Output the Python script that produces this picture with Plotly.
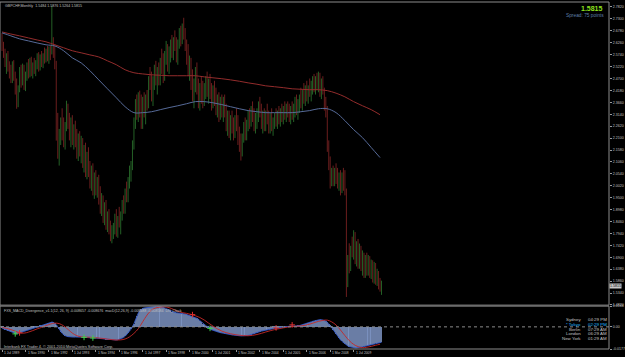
import pandas as pd
import plotly.graph_objects as go

# ---------------- data (GBPCHF monthly, Jul 1989 .. Feb 2011) ----------------
opens = [
    2.650, 2.610, 2.575, 2.540, 2.560, 2.515,
    2.490, 2.470, 2.525, 2.480, 2.420, 2.360, 2.425, 2.500, 2.450, 2.515, 2.440, 2.480,
    2.520, 2.490, 2.545, 2.500, 2.530, 2.510, 2.540, 2.565, 2.520, 2.560, 2.540, 2.570,
    2.555, 2.590, 2.560, 2.600, 2.580, 2.640, 2.580, 2.530, 2.230, 2.150, 2.220, 2.280,
    2.240, 2.200, 2.260, 2.340, 2.280, 2.230, 2.270, 2.200, 2.240, 2.190, 2.150, 2.200,
    2.160, 2.180, 2.110, 2.150, 2.070, 2.120, 2.060, 2.020, 2.060, 1.990, 2.030, 1.985,
    2.010, 1.950, 1.910, 1.940, 1.860, 1.900, 1.830, 1.860, 1.810, 1.790, 1.800, 1.820,
    1.860, 1.800, 1.850, 1.830, 1.870, 1.920, 1.900, 1.970, 1.950, 2.020, 2.060, 2.080,
    2.180, 2.280, 2.350, 2.320, 2.380, 2.330, 2.290, 2.370, 2.340, 2.390, 2.360, 2.460,
    2.440, 2.400, 2.460, 2.510, 2.470, 2.500, 2.460, 2.540, 2.520, 2.480, 2.570, 2.600,
    2.530, 2.580, 2.620, 2.590, 2.630, 2.610, 2.570, 2.620, 2.670, 2.640, 2.690, 2.660,
    2.610, 2.560, 2.500, 2.540, 2.440, 2.400, 2.450, 2.480, 2.420, 2.370, 2.430, 2.400,
    2.380, 2.420, 2.450, 2.410, 2.440, 2.400, 2.370, 2.420, 2.380, 2.340, 2.370, 2.310,
    2.360, 2.330, 2.370, 2.320, 2.270, 2.300, 2.240, 2.280, 2.260, 2.230, 2.290, 2.270,
    2.200, 2.180, 2.140, 2.210, 2.260, 2.220, 2.270, 2.300, 2.280, 2.330, 2.300, 2.260,
    2.290, 2.310, 2.350, 2.320, 2.280, 2.300, 2.260, 2.310, 2.290, 2.250, 2.300, 2.260,
    2.280, 2.300, 2.280, 2.310, 2.290, 2.320, 2.300, 2.330, 2.310, 2.340, 2.320, 2.300,
    2.330, 2.310, 2.340, 2.360, 2.330, 2.350, 2.380, 2.360, 2.400, 2.380, 2.420, 2.390,
    2.430, 2.410, 2.440, 2.460, 2.430, 2.470, 2.450, 2.480, 2.420, 2.440, 2.410, 2.360,
    2.330, 2.170, 2.100, 2.020, 2.060, 2.030, 2.060, 2.040, 2.010, 2.040, 1.990, 2.030,
    2.000, 1.980, 1.580, 1.690, 1.640, 1.720, 1.700, 1.790, 1.680, 1.740, 1.660, 1.720,
    1.650, 1.690, 1.620, 1.680, 1.630, 1.670, 1.620, 1.660, 1.600, 1.650, 1.590, 1.620,
    1.570, 1.548,
]
highs = [
    2.668, 2.630, 2.600, 2.580, 2.590, 2.545,
    2.530, 2.545, 2.550, 2.500, 2.470, 2.440, 2.520, 2.530, 2.535, 2.530, 2.500, 2.540,
    2.555, 2.560, 2.565, 2.540, 2.560, 2.550, 2.580, 2.585, 2.575, 2.590, 2.580, 2.605,
    2.600, 2.612, 2.610, 2.615, 2.786, 2.650, 2.620, 2.547, 2.320, 2.250, 2.300, 2.340,
    2.300, 2.280, 2.373, 2.360, 2.320, 2.300, 2.310, 2.270, 2.286, 2.250, 2.230, 2.240,
    2.220, 2.210, 2.180, 2.190, 2.150, 2.170, 2.110, 2.090, 2.100, 2.060, 2.070, 2.040,
    2.050, 2.000, 1.970, 1.960, 1.930, 1.940, 1.890, 1.900, 1.850, 1.830, 1.840, 1.880,
    1.900, 1.870, 1.910, 1.890, 1.940, 1.960, 1.990, 2.020, 2.040, 2.090, 2.110, 2.200,
    2.300, 2.380, 2.400, 2.410, 2.417, 2.400, 2.390, 2.410, 2.400, 2.420, 2.480, 2.520,
    2.500, 2.480, 2.530, 2.547, 2.520, 2.540, 2.560, 2.600, 2.580, 2.590, 2.634, 2.620,
    2.610, 2.640, 2.660, 2.650, 2.680, 2.650, 2.640, 2.690, 2.700, 2.710, 2.735, 2.690,
    2.640, 2.620, 2.570, 2.560, 2.510, 2.470, 2.520, 2.540, 2.470, 2.450, 2.480, 2.460,
    2.450, 2.480, 2.500, 2.470, 2.490, 2.450, 2.440, 2.460, 2.430, 2.400, 2.410, 2.390,
    2.400, 2.390, 2.400, 2.360, 2.330, 2.330, 2.310, 2.330, 2.300, 2.310, 2.340, 2.310,
    2.260, 2.230, 2.230, 2.280, 2.300, 2.290, 2.330, 2.340, 2.350, 2.370, 2.340, 2.320,
    2.340, 2.370, 2.390, 2.360, 2.330, 2.340, 2.330, 2.360, 2.330, 2.320, 2.340, 2.300,
    2.320, 2.340, 2.330, 2.350, 2.340, 2.360, 2.350, 2.370, 2.360, 2.370, 2.360, 2.350,
    2.370, 2.360, 2.390, 2.400, 2.380, 2.400, 2.430, 2.420, 2.450, 2.440, 2.460, 2.440,
    2.470, 2.460, 2.480, 2.490, 2.480, 2.495, 2.500, 2.495, 2.470, 2.480, 2.430, 2.390,
    2.350, 2.200, 2.130, 2.080, 2.090, 2.080, 2.100, 2.080, 2.060, 2.070, 2.060, 2.080,
    2.070, 1.990, 1.700, 1.751, 1.740, 1.780, 1.808, 1.800, 1.760, 1.770, 1.750, 1.740,
    1.720, 1.710, 1.700, 1.710, 1.700, 1.695, 1.680, 1.677, 1.670, 1.665, 1.640, 1.630,
    1.600, 1.588,
]
lows = [
    2.590, 2.560, 2.520, 2.490, 2.500, 2.470,
    2.450, 2.450, 2.460, 2.400, 2.338, 2.345, 2.410, 2.430, 2.440, 2.420, 2.415, 2.460,
    2.470, 2.475, 2.480, 2.470, 2.490, 2.480, 2.510, 2.500, 2.505, 2.520, 2.515, 2.535,
    2.540, 2.545, 2.534, 2.550, 2.575, 2.560, 2.510, 2.199, 2.120, 2.090, 2.180, 2.200,
    2.170, 2.160, 2.240, 2.250, 2.200, 2.170, 2.180, 2.160, 2.170, 2.120, 2.110, 2.130,
    2.100, 2.080, 2.060, 2.040, 2.030, 2.040, 1.990, 1.980, 1.960, 1.945, 1.960, 1.950,
    1.920, 1.880, 1.870, 1.840, 1.830, 1.810, 1.800, 1.790, 1.760, 1.751, 1.770, 1.790,
    1.780, 1.775, 1.820, 1.790, 1.850, 1.880, 1.880, 1.930, 1.930, 1.990, 2.020, 2.070,
    2.160, 2.250, 2.290, 2.280, 2.300, 2.250, 2.250, 2.300, 2.270, 2.330, 2.340, 2.420,
    2.370, 2.350, 2.420, 2.440, 2.400, 2.440, 2.440, 2.490, 2.450, 2.460, 2.530, 2.500,
    2.490, 2.540, 2.560, 2.550, 2.590, 2.540, 2.530, 2.600, 2.610, 2.620, 2.640, 2.590,
    2.530, 2.480, 2.460, 2.420, 2.370, 2.340, 2.410, 2.400, 2.340, 2.330, 2.360, 2.340,
    2.350, 2.380, 2.390, 2.360, 2.380, 2.330, 2.340, 2.350, 2.310, 2.300, 2.280, 2.290,
    2.300, 2.280, 2.300, 2.240, 2.220, 2.210, 2.200, 2.230, 2.200, 2.210, 2.240, 2.180,
    2.150, 2.112, 2.130, 2.190, 2.200, 2.200, 2.240, 2.250, 2.260, 2.280, 2.240, 2.230,
    2.250, 2.280, 2.300, 2.250, 2.230, 2.240, 2.240, 2.270, 2.230, 2.230, 2.240, 2.220,
    2.250, 2.260, 2.250, 2.270, 2.260, 2.280, 2.270, 2.290, 2.280, 2.300, 2.280, 2.270,
    2.290, 2.280, 2.300, 2.310, 2.290, 2.320, 2.340, 2.330, 2.360, 2.350, 2.370, 2.360,
    2.390, 2.370, 2.400, 2.410, 2.400, 2.420, 2.410, 2.390, 2.380, 2.400, 2.330, 2.300,
    2.150, 2.070, 1.990, 2.000, 2.000, 2.000, 2.010, 1.990, 1.980, 1.960, 1.970, 1.980,
    1.960, 1.517, 1.560, 1.620, 1.630, 1.690, 1.680, 1.660, 1.650, 1.640, 1.640, 1.630,
    1.610, 1.600, 1.600, 1.610, 1.610, 1.600, 1.595, 1.580, 1.575, 1.570, 1.565, 1.550,
    1.540, 1.526,
]
closes = [
    2.610, 2.575, 2.540, 2.560, 2.515, 2.490,
    2.470, 2.525, 2.480, 2.420, 2.360, 2.425, 2.500, 2.450, 2.515, 2.440, 2.480, 2.520,
    2.490, 2.545, 2.500, 2.530, 2.510, 2.540, 2.565, 2.520, 2.560, 2.540, 2.570, 2.555,
    2.590, 2.560, 2.600, 2.580, 2.640, 2.580, 2.530, 2.230, 2.150, 2.220, 2.280, 2.240,
    2.200, 2.260, 2.340, 2.280, 2.230, 2.270, 2.200, 2.240, 2.190, 2.150, 2.200, 2.160,
    2.180, 2.110, 2.150, 2.070, 2.120, 2.060, 2.020, 2.060, 1.990, 2.030, 1.985, 2.010,
    1.950, 1.910, 1.940, 1.860, 1.900, 1.830, 1.860, 1.810, 1.790, 1.800, 1.820, 1.860,
    1.800, 1.850, 1.830, 1.870, 1.920, 1.900, 1.970, 1.950, 2.020, 2.060, 2.080, 2.180,
    2.280, 2.350, 2.320, 2.380, 2.330, 2.290, 2.370, 2.340, 2.390, 2.360, 2.460, 2.440,
    2.400, 2.460, 2.510, 2.470, 2.500, 2.460, 2.540, 2.520, 2.480, 2.570, 2.600, 2.530,
    2.580, 2.620, 2.590, 2.630, 2.610, 2.570, 2.620, 2.670, 2.640, 2.690, 2.660, 2.610,
    2.560, 2.500, 2.540, 2.440, 2.400, 2.450, 2.480, 2.420, 2.370, 2.430, 2.400, 2.380,
    2.420, 2.450, 2.410, 2.440, 2.400, 2.370, 2.420, 2.380, 2.340, 2.370, 2.310, 2.360,
    2.330, 2.370, 2.320, 2.270, 2.300, 2.240, 2.280, 2.260, 2.230, 2.290, 2.270, 2.200,
    2.180, 2.140, 2.210, 2.260, 2.220, 2.270, 2.300, 2.280, 2.330, 2.300, 2.260, 2.290,
    2.310, 2.350, 2.320, 2.280, 2.300, 2.260, 2.310, 2.290, 2.250, 2.300, 2.260, 2.280,
    2.300, 2.280, 2.310, 2.290, 2.320, 2.300, 2.330, 2.310, 2.340, 2.320, 2.300, 2.330,
    2.310, 2.340, 2.360, 2.330, 2.350, 2.380, 2.360, 2.400, 2.380, 2.420, 2.390, 2.430,
    2.410, 2.440, 2.460, 2.430, 2.470, 2.450, 2.480, 2.420, 2.440, 2.410, 2.360, 2.330,
    2.170, 2.100, 2.020, 2.060, 2.030, 2.060, 2.040, 2.010, 2.040, 1.990, 2.030, 2.000,
    1.980, 1.580, 1.690, 1.640, 1.720, 1.700, 1.790, 1.680, 1.740, 1.660, 1.720, 1.650,
    1.690, 1.620, 1.680, 1.630, 1.670, 1.620, 1.660, 1.600, 1.650, 1.590, 1.620, 1.570,
    1.548, 1.582,
]

# moving averages, read every 6 bars
ma_red = [2.673, 2.664, 2.656, 2.647, 2.638, 2.630, 2.617, 2.604, 2.591, 2.582, 2.573,
          2.564, 2.547, 2.530, 2.508, 2.495, 2.490, 2.486, 2.484, 2.482, 2.482, 2.482,
          2.482, 2.477, 2.473, 2.469, 2.464, 2.458, 2.451, 2.445, 2.438, 2.434, 2.430,
          2.425, 2.423, 2.421, 2.421, 2.417, 2.406, 2.390, 2.369, 2.351, 2.334, 2.312]
ma_blue = [2.669, 2.656, 2.643, 2.634, 2.625, 2.617, 2.612, 2.591, 2.560, 2.538, 2.504,
           2.464, 2.425, 2.386, 2.347, 2.321, 2.321, 2.325, 2.334, 2.343, 2.351, 2.360,
           2.369, 2.369, 2.364, 2.356, 2.347, 2.338, 2.330, 2.325, 2.321, 2.321, 2.321,
           2.321, 2.325, 2.330, 2.338, 2.338, 2.321, 2.286, 2.247, 2.212, 2.169, 2.125]

# MACD histogram (one value per bar) and signal line (read every 3 bars)
macd = [
    -0.0010, -0.0015, -0.0022, -0.0028, -0.0033, -0.0037,
    -0.0041, -0.0044, -0.0050, -0.0055, -0.0056, -0.0052, -0.0048, -0.0044, -0.0040, -0.0036, -0.0032, -0.0028,
    -0.0024, -0.0019, -0.0014, -0.0009, -0.0005, -0.0002, 0.0001, 0.0004, 0.0008, 0.0012, 0.0016, 0.0020,
    0.0024, 0.0028, 0.0031, 0.0034, 0.0038, 0.0036, 0.0030, 0.0018, 0.0000, -0.0020, -0.0038, -0.0052,
    -0.0062, -0.0072, -0.0076, -0.0078, -0.0080, -0.0081, -0.0082, -0.0082, -0.0081, -0.0080, -0.0080, -0.0081,
    -0.0082, -0.0083, -0.0083, -0.0084, -0.0084, -0.0085, -0.0086, -0.0087, -0.0088, -0.0089, -0.0090, -0.0091,
    -0.0093, -0.0095, -0.0097, -0.0099, -0.0101, -0.0102, -0.0103, -0.0104, -0.0105, -0.0106, -0.0106, -0.0106,
    -0.0105, -0.0103, -0.0100, -0.0096, -0.0091, -0.0085, -0.0076, -0.0064, -0.0050, -0.0034, -0.0018, 0.0000,
    0.0025, 0.0055, 0.0085, 0.0110, 0.0128, 0.0140, 0.0147, 0.0151, 0.0153, 0.0154, 0.0155, 0.0156,
    0.0157, 0.0158, 0.0160, 0.0162, 0.0164, 0.0166, 0.0165, 0.0162, 0.0158, 0.0152, 0.0146, 0.0140,
    0.0134, 0.0128, 0.0122, 0.0118, 0.0115, 0.0113, 0.0112, 0.0111, 0.0110, 0.0108, 0.0106, 0.0103,
    0.0099, 0.0095, 0.0091, 0.0087, 0.0083, 0.0079, 0.0074, 0.0068, 0.0060, 0.0050, 0.0038, 0.0026,
    0.0015, 0.0005, -0.0005, -0.0012, -0.0018, -0.0023, -0.0028, -0.0032, -0.0036, -0.0040, -0.0043, -0.0046,
    -0.0049, -0.0052, -0.0054, -0.0056, -0.0058, -0.0060, -0.0062, -0.0064, -0.0066, -0.0068, -0.0069, -0.0070,
    -0.0071, -0.0072, -0.0072, -0.0072, -0.0071, -0.0070, -0.0068, -0.0065, -0.0062, -0.0058, -0.0054, -0.0050,
    -0.0046, -0.0042, -0.0038, -0.0034, -0.0031, -0.0028, -0.0025, -0.0022, -0.0020, -0.0018, -0.0016, -0.0014,
    -0.0012, -0.0010, -0.0008, -0.0006, -0.0004, -0.0002, 0.0000, 0.0002, 0.0003, 0.0004, 0.0005, 0.0006,
    0.0006, 0.0005, 0.0005, 0.0006, 0.0008, 0.0010, 0.0013, 0.0016, 0.0020, 0.0024, 0.0028, 0.0032,
    0.0036, 0.0040, 0.0044, 0.0048, 0.0052, 0.0055, 0.0057, 0.0058, 0.0058, 0.0056, 0.0052, 0.0046,
    0.0036, 0.0024, 0.0010, -0.0006, -0.0022, -0.0040, -0.0058, -0.0074, -0.0090, -0.0104, -0.0116, -0.0126,
    -0.0134, -0.0145, -0.0152, -0.0158, -0.0162, -0.0165, -0.0167, -0.0168, -0.0168, -0.0167, -0.0165, -0.0163,
    -0.0160, -0.0157, -0.0154, -0.0151, -0.0148, -0.0145, -0.0142, -0.0139, -0.0136, -0.0133, -0.0130, -0.0128,
    -0.0126, -0.0124,
]
signal = [
    -0.0004, -0.0012, -0.0022, -0.0034, -0.0046, -0.0050, -0.0042, -0.0030, -0.0016, -0.0004,
    0.0010, 0.0022, 0.0030, 0.0026, 0.0008, -0.0020, -0.0050, -0.0070, -0.0080, -0.0082,
    -0.0083, -0.0086, -0.0089, -0.0093, -0.0098, -0.0102, -0.0105, -0.0104, -0.0097, -0.0080,
    -0.0052, -0.0015, 0.0040, 0.0095, 0.0135, 0.0152, 0.0158, 0.0160, 0.0154, 0.0140,
    0.0124, 0.0114, 0.0108, 0.0100, 0.0089, 0.0075, 0.0055, 0.0030, 0.0006, -0.0016,
    -0.0034, -0.0046, -0.0055, -0.0062, -0.0067, -0.0070, -0.0071, -0.0068, -0.0061, -0.0052,
    -0.0041, -0.0031, -0.0022, -0.0015, -0.0008, -0.0002, 0.0003, 0.0005, 0.0007, 0.0013,
    0.0022, 0.0033, 0.0044, 0.0052, 0.0054, 0.0040, 0.0015, -0.0025, -0.0070, -0.0110,
    -0.0140, -0.0158, -0.0166, -0.0163, -0.0156, -0.0147, -0.0139,
]
buy_dates = ["1990-04-01", "1994-03-01", "1994-09-01", "2001-05-01"]
buy_vals = [-0.0056, -0.0084, -0.0089, -0.0012]
sell_dates = ["1990-07-01", "2000-05-01", "2005-02-01", "2006-01-01"]
sell_vals = [-0.0048, 0.0098, -0.0008, 0.0016]

date_labels = ["1 Jul 1989", "1 Nov 1990", "1 Mar 1992", "1 Jul 1993", "1 Nov 1994",
               "1 Mar 1996", "1 Jul 1997", "1 Nov 1998", "1 Mar 2000", "1 Jul 2001",
               "1 Nov 2002", "1 Mar 2004", "1 Jul 2005", "1 Nov 2006", "1 Mar 2008",
               "1 Jul 2009"]
date_ticks = ["1989-07-01", "1990-11-01", "1992-03-01", "1993-07-01", "1994-11-01",
              "1996-03-01", "1997-07-01", "1998-11-01", "2000-03-01", "2001-07-01",
              "2002-11-01", "2004-03-01", "2005-07-01", "2006-11-01", "2008-03-01",
              "2009-07-01"]
price_ticks = [2.7820, 2.7300, 2.6780, 2.6260, 2.5740, 2.5220, 2.4700, 2.4180, 2.3660,
               2.3140, 2.2620, 2.2100, 2.1580, 2.1060, 2.0540, 2.0020, 1.9500, 1.8980,
               1.8460, 1.7940, 1.7420, 1.6900, 1.6380, 1.5860, 1.5340, 1.4820]
macd_ticks = [0.0166, 0.0, -0.0177]
macd_tick_text = ["0.0166", "0.00", "-0.0177"]
clock_cities = ["Sydney", "* Tokyo", "Berlin", "London", "New York"]
clock_times = ["04:29 PM", "02:29 PM", "07:29 AM", "06:29 AM", "01:29 AM"]

# ---------------- figure ----------------
W, H = 625, 357
ML, MR, MT, MB = 0, 14, 1, 8
PW, PH = W - ML - MR, H - MT - MB


def px(x):
    return (x - ML) / PW


def py(y):
    return (H - MB - y) / PH


FONT = "Liberation Sans, Arial, sans-serif"
TXT = "#c0c0c0"
UP, DN = "#338a36", "#9a2b2b"
XR = ["1989-05-20", "2024-01-10"]

dates = pd.date_range("1989-07-01", periods=len(closes), freq="MS")

fig = go.Figure()
fig.add_trace(go.Ohlc(
    x=dates, open=opens, high=highs, low=lows, close=closes,
    increasing=dict(line=dict(color=UP, width=0.7)),
    decreasing=dict(line=dict(color=DN, width=0.7)),
    tickwidth=0, hoverinfo="skip", showlegend=False, xaxis="x", yaxis="y"))
fig.add_trace(go.Scatter(x=dates[::6], y=ma_red, mode="lines",
                         line=dict(color="#932c2c", width=1, shape="spline"),
                         hoverinfo="skip", showlegend=False, xaxis="x", yaxis="y"))
fig.add_trace(go.Scatter(x=dates[::6], y=ma_blue, mode="lines",
                         line=dict(color="#566a98", width=1, shape="spline"),
                         hoverinfo="skip", showlegend=False, xaxis="x", yaxis="y"))

# MACD pane
fig.add_trace(go.Bar(x=dates, y=macd, width=1.0e9,
                     marker=dict(color="#7d93c2", opacity=0.85, line=dict(width=0)),
                     hoverinfo="skip", showlegend=False, xaxis="x2", yaxis="y2"))
fig.add_trace(go.Scatter(x=dates, y=macd, mode="lines", line=dict(color="#3558c0", width=1),
                         hoverinfo="skip", showlegend=False, xaxis="x2", yaxis="y2"))
fig.add_trace(go.Scatter(x=dates[::3], y=signal, mode="lines",
                         line=dict(color="#c42828", width=0.9, shape="spline"),
                         hoverinfo="skip", showlegend=False, xaxis="x2", yaxis="y2"))
fig.add_trace(go.Scatter(x=buy_dates, y=buy_vals, mode="markers",
                         marker=dict(symbol="cross-thin", size=4, line=dict(color="#3fd24a", width=1)),
                         hoverinfo="skip", showlegend=False, xaxis="x2", yaxis="y2"))
fig.add_trace(go.Scatter(x=sell_dates, y=sell_vals, mode="markers",
                         marker=dict(symbol="cross-thin", size=4, line=dict(color="#e03030", width=1)),
                         hoverinfo="skip", showlegend=False, xaxis="x2", yaxis="y2"))

main_dom = [py(305), py(1)]
macd_dom = [py(349), py(306)]

axis_font = dict(family=FONT, size=3.6, color=TXT)
fig.update_layout(
    width=W, height=H, margin=dict(l=ML, r=MR, t=MT, b=MB),
    paper_bgcolor="black", plot_bgcolor="black", bargap=0,
    xaxis=dict(domain=[0, 1], range=XR, anchor="y", showticklabels=False, showgrid=False,
               zeroline=False, rangeslider=dict(visible=False), ticks=""),
    yaxis=dict(domain=main_dom, range=[1.4813, 2.8037], side="right", anchor="x",
               tickvals=price_ticks, ticktext=[f"{v:.4f}" for v in price_ticks],
               tickfont=axis_font, ticks="outside", ticklen=2, tickcolor="#9a9a9a",
               showgrid=False, zeroline=False),
    xaxis2=dict(domain=[0, 1], range=XR, anchor="y2", matches="x", showticklabels=False,
                showgrid=False, zeroline=False, tickvals=date_ticks, ticks="outside",
                ticklen=2, tickcolor="#9a9a9a"),
    yaxis2=dict(domain=macd_dom, range=[-0.0177, 0.0166], side="right", anchor="x2",
                tickvals=macd_ticks, ticktext=macd_tick_text, tickfont=axis_font,
                ticks="outside", ticklen=2, tickcolor="#9a9a9a",
                showgrid=False, zeroline=False),
)

shapes = [
    dict(type="rect", xref="paper", yref="paper", x0=0, x1=1, y0=py(305), y1=py(1),
         line=dict(color="#8c8c8c", width=1)),
    dict(type="rect", xref="paper", yref="paper", x0=0, x1=1, y0=py(349), y1=py(306),
         line=dict(color="#8c8c8c", width=1)),
    dict(type="line", xref="paper", yref="y2", x0=0, x1=1, y0=0, y1=0,
         line=dict(color="#8c8c8c", width=1, dash="dot")),
]
fig.update_layout(shapes=shapes)

ann = []
small = dict(family=FONT, size=3.6, color=TXT)
ann.append(dict(x=px(3), y=py(5), xref="paper", yref="paper", xanchor="left", yanchor="middle",
                text="GBPCHF,Monthly  1.5484 1.5876 1.5264 1.5815", showarrow=False, font=small))
ann.append(dict(x=px(607), y=py(7.5), xref="paper", yref="paper", xanchor="right", yanchor="middle",
                text="<b>1.5815</b>", showarrow=False,
                font=dict(family=FONT, size=7, color="#8fe01e")))
ann.append(dict(x=px(608), y=py(14.5), xref="paper", yref="paper", xanchor="right", yanchor="middle",
                text="Spread: 75 points", showarrow=False,
                font=dict(family=FONT, size=4.8, color="#5f7fa8")))
ann.append(dict(x=1, y=1.566, xref="paper", yref="y", xanchor="left", yanchor="middle",
                text="1.5815", showarrow=False, bgcolor="#c8c8c8",
                font=dict(family=FONT, size=3.6, color="black"), borderpad=0))
ann.append(dict(x=px(2), y=py(310.5), xref="paper", yref="paper", xanchor="left", yanchor="middle",
                text="FXS_MACD_Divergence_v1.1(12, 26, 9) -0.008657 -0.008676  macD(12,26,9) -0.008688 -0.008584  DN_Clock",
                showarrow=False, font=small))
ann.append(dict(x=px(2), y=py(346.5), xref="paper", yref="paper", xanchor="left", yanchor="middle",
                text="Interbank FX Trader 4, \u00a9 2001-2010 MetaQuotes Software Corp.",
                showarrow=False, font=dict(family=FONT, size=3.8, color=TXT)))
for k, (c, t) in enumerate(zip(clock_cities, clock_times)):
    col = "#1fb8ff" if "Tokyo" in c else TXT
    yy = py(319.5 + 4.8 * k)
    ann.append(dict(x=px(585), y=yy, xref="paper", yref="paper", xanchor="right", yanchor="middle",
                    text=c, showarrow=False, font=dict(family=FONT, size=4.4, color=col)))
    ann.append(dict(x=px(588), y=yy, xref="paper", yref="paper", xanchor="left", yanchor="middle",
                    text=t, showarrow=False, font=dict(family=FONT, size=4.4, color=col)))
for d, lab in zip(date_ticks, date_labels):
    ann.append(dict(x=d, y=py(353.5), xref="x2", yref="paper", xanchor="left", yanchor="middle",
                    xshift=0, text=lab, showarrow=False, font=dict(family=FONT, size=3.3, color=TXT)))
fig.update_layout(annotations=ann)

fig.write_html("out.html", config={"displayModeBar": False})
